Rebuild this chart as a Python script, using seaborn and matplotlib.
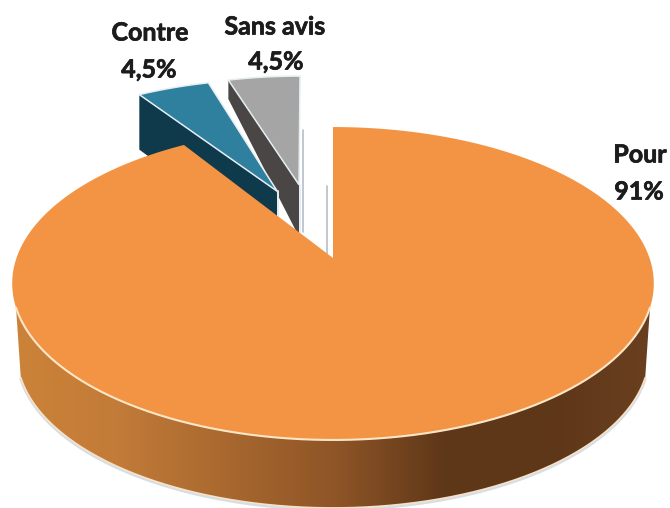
import numpy as np
import matplotlib
matplotlib.use('Agg')
import matplotlib.pyplot as plt
import matplotlib.patheffects as pe
from matplotlib.patches import Polygon
import seaborn as sns

# Data
labels = ['Pour', 'Contre', 'Sans avis']
value_labels = ['91%', '4,5%', '4,5%']
values = [91, 4.5, 4.5]

face_colors = ['#F39344', '#2F7F9F', '#A5A5A5']
cut_colors = [None, '#0E3A4C', '#4A4646']
rim_stops = ['#CC8339', '#C27B38', '#A8682F', '#8F5527', '#5F3818', '#5E3718', '#6B4020']

# Perspective of the tilted disc, in pixels of the picture
apex_x, apex_y = 333, 258
scale_x, scale_y, tilt = 316.5, 152.3, 0.163
depth, base_shrink = 70.7, 0.985

# Exploded slices: direction (degrees from 12 o'clock), distance, cut depth at rim and at apex, apex nudge
explode = {1: (-24.3, 0.5, 55, 60, (5, -2)), 2: (-15.0, 0.5, 19, 52, (4, -5))}


def project(x, y):
    d = 1 + tilt * y
    return apex_x + scale_x * x / d, apex_y - scale_y * y / d


def arc(a0, a1, n=200, ox=0.0, oy=0.0):
    a = np.radians(np.linspace(a0, a1, n))
    return project(np.sin(a) + ox, np.cos(a) + oy)


def to_base(px, py):
    return apex_x + base_shrink * (px - apex_x), apex_y + depth + base_shrink * (py - apex_y)


sns.set_theme(style='white')
plt.rcParams['font.family'] = ['Lato', 'DejaVu Sans']

fig = plt.figure(figsize=(6.7, 5.08), dpi=100)
ax = fig.add_axes([0, 0, 1, 1])
ax.set_xlim(0, 670)
ax.set_ylim(508, 0)
ax.axis('off')

# Slice angles, clockwise from 12 o'clock
shares = 360 * np.array(values) / np.sum(values)
ends = np.cumsum(shares)
starts = ends - shares

# Exploded slices go first, the big slice covers their cut faces
for i, (direction, dist, d_rim, d_apex, nudge) in explode.items():
    a0 = starts[i] - 360
    a1 = ends[i] - 360
    ox = dist * np.sin(np.radians(direction))
    oy = dist * np.cos(np.radians(direction))
    ax_, ay_ = project(ox, oy)
    ax_, ay_ = ax_ + nudge[0], ay_ + nudge[1]
    xs, ys = arc(a0, a1, 60, ox, oy)
    # cut face along the left radial edge
    cut = [(xs[0], ys[0]), (ax_, ay_), (ax_, ay_ + d_apex), (xs[0], ys[0] + d_rim)]
    ax.add_patch(Polygon(cut, closed=True, fc=cut_colors[i], ec='none', zorder=2))
    face = np.column_stack([np.r_[ax_, xs], np.r_[ay_, ys]])
    ax.add_patch(Polygon(face, closed=True, fc=face_colors[i], ec='#E6EEF2', lw=1.1,
                         joinstyle='miter', zorder=3))
    ax.plot([ax_ + 1, ax_ + 1], [ay_, ay_ + d_apex], color='#E6EEF2', lw=1.4, zorder=3)

# Faint guide lines left behind the gap
ax.plot([303, 303], [130, 232], color='#B4BEC8', lw=1.2, zorder=1)
ax.plot([327, 327], [186, 254], color='#B4BEC8', lw=1.2, zorder=1)

# Rim of the big slice: horizontal gradient clipped to the visible side
tx, ty = arc(-108, -252, 300)
bx, by = to_base(tx, ty)
side = np.column_stack([np.r_[tx, bx[::-1]], np.r_[ty, by[::-1]]])
side_patch = Polygon(side, closed=True, fc='none', ec='none', zorder=4)
ax.add_patch(side_patch)
rim_cmap = sns.blend_palette(rim_stops, n_colors=256, as_cmap=True)
grad = ax.imshow(np.linspace(0, 1, 256)[None, :], cmap=rim_cmap, aspect='auto',
                 extent=(10, 660, 508, 250), zorder=4)
grad.set_clip_path(side_patch)
ax.set_xlim(0, 670)
ax.set_ylim(508, 0)

# Soft halo and light edge on the base
ax.plot(bx, by + 1.5, color='#D5DEE6', lw=2.0, zorder=3.5)
ax.plot(bx, by, color='#F7E2C8', lw=1.2, zorder=5)

# Top face of the big slice
xs, ys = arc(starts[0], ends[0], 500)
top = np.column_stack([np.r_[apex_x, xs], np.r_[apex_y, ys]])
ax.add_patch(Polygon(top, closed=True, fc=face_colors[0], ec='none', zorder=6))
ax.plot(tx, ty, color='#FBE6C8', lw=1.5, zorder=7)

# Labels
text_color = '#1C1C1C'
stroke = [pe.withStroke(linewidth=0.5, foreground=text_color)]
label_pos = [(640, 155, 639, 192), (150, 33, 149, 70), (275, 27, 276, 62)]
for name, val, (lx, ly, vx, vy) in zip(labels, value_labels, label_pos):
    ax.text(lx, ly, name, ha='center', va='center', fontsize=18, fontweight='bold',
            color=text_color, zorder=8, path_effects=stroke)
    ax.text(vx, vy, val, ha='center', va='center', fontsize=18, fontweight='bold',
            color=text_color, zorder=8, path_effects=stroke)

fig.savefig('out.png', dpi=100, facecolor='white')
